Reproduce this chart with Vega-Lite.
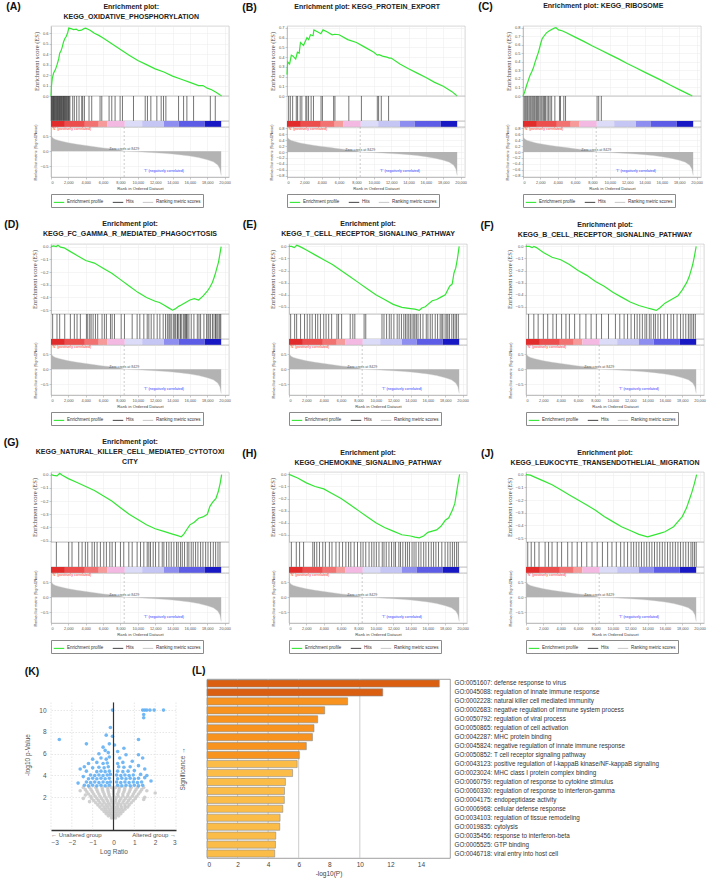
{
"$schema": "https://vega.github.io/schema/vega-lite/v6.json",
"padding": {"left": 3, "top": 2, "right": 1, "bottom": 2},
"spacing": 11,
"config": {
 "font": "Liberation Sans",
 "view": {"stroke": "#bbbbbb", "strokeWidth": 0.6},
 "axis": {"labelFontSize": 4, "titleFontSize": 4.2, "labelColor": "#555555", "titleColor": "#444444", "titleFontWeight": "normal", "tickColor": "#999999", "domainColor": "#999999", "gridColor": "#eaeaea", "gridWidth": 0.5, "tickSize": 2, "tickWidth": 0.5, "domainWidth": 0.5, "labelPadding": 1, "titlePadding": 3, "labelOverlap": false},
 "legend": {"orient": "bottom", "direction": "horizontal", "labelFontSize": 4.5, "labelColor": "#333333", "symbolType": "stroke", "symbolSize": 110, "symbolStrokeWidth": 1.1, "strokeColor": "#8a8a8a", "padding": 2, "columnPadding": 6, "offset": 3, "labelOffset": 2}
},
"datasets": {
 "es": [
  {"p":"A","r":0,"e":0},{"p":"A","r":60,"e":0.1},{"p":"A","r":150,"e":0.17},{"p":"A","r":300,"e":0.22},{"p":"A","r":500,"e":0.25},{"p":"A","r":700,"e":0.3},{"p":"A","r":900,"e":0.36},{"p":"A","r":1000,"e":0.41},{"p":"A","r":1150,"e":0.43},{"p":"A","r":1300,"e":0.47},{"p":"A","r":1450,"e":0.52},{"p":"A","r":1600,"e":0.55},{"p":"A","r":1750,"e":0.57},{"p":"A","r":1900,"e":0.6},{"p":"A","r":2050,"e":0.65},{"p":"A","r":2300,"e":0.645},{"p":"A","r":2600,"e":0.635},{"p":"A","r":2900,"e":0.64},{"p":"A","r":3200,"e":0.625},{"p":"A","r":3500,"e":0.63},{"p":"A","r":3800,"e":0.645},{"p":"A","r":4000,"e":0.65},{"p":"A","r":4500,"e":0.63},{"p":"A","r":5000,"e":0.6},{"p":"A","r":5500,"e":0.58},{"p":"A","r":6000,"e":0.555},{"p":"A","r":7000,"e":0.5},{"p":"A","r":8000,"e":0.445},{"p":"A","r":9000,"e":0.39},{"p":"A","r":10000,"e":0.34},{"p":"A","r":11000,"e":0.3},{"p":"A","r":12000,"e":0.26},{"p":"A","r":13000,"e":0.23},{"p":"A","r":14000,"e":0.19},{"p":"A","r":15000,"e":0.16},{"p":"A","r":16000,"e":0.13},{"p":"A","r":17000,"e":0.1},{"p":"A","r":17500,"e":0.1},{"p":"A","r":18000,"e":0.075},{"p":"A","r":18500,"e":0.06},{"p":"A","r":19000,"e":0.035},{"p":"A","r":19650,"e":0},
  {"p":"B","r":0,"e":0.22},{"p":"B","r":80,"e":0.35},{"p":"B","r":300,"e":0.33},{"p":"B","r":500,"e":0.42},{"p":"B","r":700,"e":0.41},{"p":"B","r":1000,"e":0.38},{"p":"B","r":1200,"e":0.45},{"p":"B","r":1400,"e":0.44},{"p":"B","r":1550,"e":0.55},{"p":"B","r":1900,"e":0.52},{"p":"B","r":2100,"e":0.56},{"p":"B","r":2300,"e":0.6},{"p":"B","r":2500,"e":0.58},{"p":"B","r":2700,"e":0.63},{"p":"B","r":3000,"e":0.62},{"p":"B","r":3100,"e":0.68},{"p":"B","r":3500,"e":0.66},{"p":"B","r":3900,"e":0.64},{"p":"B","r":4150,"e":0.68},{"p":"B","r":4600,"e":0.66},{"p":"B","r":5200,"e":0.63},{"p":"B","r":5500,"e":0.635},{"p":"B","r":6000,"e":0.63},{"p":"B","r":7000,"e":0.58},{"p":"B","r":8000,"e":0.55},{"p":"B","r":9000,"e":0.5},{"p":"B","r":10000,"e":0.45},{"p":"B","r":10400,"e":0.42},{"p":"B","r":10600,"e":0.425},{"p":"B","r":11000,"e":0.41},{"p":"B","r":11500,"e":0.4},{"p":"B","r":11800,"e":0.39},{"p":"B","r":12000,"e":0.39},{"p":"B","r":13000,"e":0.33},{"p":"B","r":14000,"e":0.28},{"p":"B","r":15000,"e":0.235},{"p":"B","r":16000,"e":0.19},{"p":"B","r":17000,"e":0.14},{"p":"B","r":18000,"e":0.1},{"p":"B","r":19000,"e":0.045},{"p":"B","r":19600,"e":0},
  {"p":"C","r":0,"e":0},{"p":"C","r":200,"e":0.05},{"p":"C","r":400,"e":0.12},{"p":"C","r":600,"e":0.18},{"p":"C","r":800,"e":0.24},{"p":"C","r":1000,"e":0.28},{"p":"C","r":1200,"e":0.33},{"p":"C","r":1400,"e":0.4},{"p":"C","r":1600,"e":0.46},{"p":"C","r":1800,"e":0.52},{"p":"C","r":2000,"e":0.6},{"p":"C","r":2200,"e":0.67},{"p":"C","r":2400,"e":0.7},{"p":"C","r":2700,"e":0.74},{"p":"C","r":3000,"e":0.76},{"p":"C","r":3300,"e":0.78},{"p":"C","r":3600,"e":0.795},{"p":"C","r":3800,"e":0.8},{"p":"C","r":4100,"e":0.775},{"p":"C","r":4500,"e":0.765},{"p":"C","r":5000,"e":0.74},{"p":"C","r":6000,"e":0.69},{"p":"C","r":7000,"e":0.64},{"p":"C","r":8000,"e":0.585},{"p":"C","r":9000,"e":0.535},{"p":"C","r":10000,"e":0.485},{"p":"C","r":11000,"e":0.435},{"p":"C","r":12000,"e":0.38},{"p":"C","r":13000,"e":0.33},{"p":"C","r":14000,"e":0.28},{"p":"C","r":15000,"e":0.23},{"p":"C","r":16000,"e":0.18},{"p":"C","r":17000,"e":0.125},{"p":"C","r":18000,"e":0.075},{"p":"C","r":19000,"e":0.025},{"p":"C","r":19500,"e":0},
  {"p":"D","r":0,"e":0},{"p":"D","r":300,"e":0.005},{"p":"D","r":600,"e":0},{"p":"D","r":800,"e":0.01},{"p":"D","r":1100,"e":-0.005},{"p":"D","r":1500,"e":-0.01},{"p":"D","r":2000,"e":-0.03},{"p":"D","r":3000,"e":-0.07},{"p":"D","r":4000,"e":-0.11},{"p":"D","r":5000,"e":-0.13},{"p":"D","r":6000,"e":-0.17},{"p":"D","r":7000,"e":-0.21},{"p":"D","r":8000,"e":-0.26},{"p":"D","r":9000,"e":-0.31},{"p":"D","r":10000,"e":-0.36},{"p":"D","r":11000,"e":-0.4},{"p":"D","r":12000,"e":-0.43},{"p":"D","r":12500,"e":-0.44},{"p":"D","r":13000,"e":-0.46},{"p":"D","r":13500,"e":-0.48},{"p":"D","r":14000,"e":-0.5},{"p":"D","r":14300,"e":-0.49},{"p":"D","r":14700,"e":-0.47},{"p":"D","r":15000,"e":-0.46},{"p":"D","r":15500,"e":-0.44},{"p":"D","r":16000,"e":-0.42},{"p":"D","r":16500,"e":-0.41},{"p":"D","r":17000,"e":-0.42},{"p":"D","r":17500,"e":-0.39},{"p":"D","r":18000,"e":-0.35},{"p":"D","r":18300,"e":-0.32},{"p":"D","r":18600,"e":-0.28},{"p":"D","r":18900,"e":-0.22},{"p":"D","r":19100,"e":-0.17},{"p":"D","r":19300,"e":-0.12},{"p":"D","r":19450,"e":-0.06},{"p":"D","r":19600,"e":0},
  {"p":"E","r":0,"e":0},{"p":"E","r":300,"e":0},{"p":"E","r":600,"e":-0.01},{"p":"E","r":900,"e":0.01},{"p":"E","r":1200,"e":0},{"p":"E","r":1500,"e":-0.01},{"p":"E","r":2000,"e":-0.03},{"p":"E","r":3000,"e":-0.07},{"p":"E","r":4000,"e":-0.11},{"p":"E","r":5000,"e":-0.15},{"p":"E","r":6000,"e":-0.2},{"p":"E","r":7000,"e":-0.25},{"p":"E","r":8000,"e":-0.3},{"p":"E","r":9000,"e":-0.35},{"p":"E","r":10000,"e":-0.4},{"p":"E","r":11000,"e":-0.44},{"p":"E","r":12000,"e":-0.48},{"p":"E","r":13000,"e":-0.505},{"p":"E","r":14000,"e":-0.515},{"p":"E","r":14500,"e":-0.52},{"p":"E","r":15000,"e":-0.53},{"p":"E","r":15300,"e":-0.51},{"p":"E","r":15700,"e":-0.5},{"p":"E","r":16000,"e":-0.48},{"p":"E","r":16500,"e":-0.45},{"p":"E","r":17000,"e":-0.44},{"p":"E","r":17500,"e":-0.42},{"p":"E","r":18000,"e":-0.4},{"p":"E","r":18500,"e":-0.33},{"p":"E","r":18800,"e":-0.31},{"p":"E","r":19000,"e":-0.22},{"p":"E","r":19200,"e":-0.18},{"p":"E","r":19400,"e":-0.1},{"p":"E","r":19600,"e":0},
  {"p":"F","r":0,"e":0},{"p":"F","r":400,"e":0},{"p":"F","r":700,"e":-0.01},{"p":"F","r":900,"e":0},{"p":"F","r":1200,"e":-0.01},{"p":"F","r":2000,"e":-0.05},{"p":"F","r":3000,"e":-0.09},{"p":"F","r":4000,"e":-0.11},{"p":"F","r":5000,"e":-0.15},{"p":"F","r":6000,"e":-0.2},{"p":"F","r":7000,"e":-0.24},{"p":"F","r":8000,"e":-0.29},{"p":"F","r":9000,"e":-0.33},{"p":"F","r":10000,"e":-0.38},{"p":"F","r":11000,"e":-0.42},{"p":"F","r":12000,"e":-0.46},{"p":"F","r":13000,"e":-0.49},{"p":"F","r":14000,"e":-0.51},{"p":"F","r":14500,"e":-0.52},{"p":"F","r":15000,"e":-0.53},{"p":"F","r":15400,"e":-0.51},{"p":"F","r":16000,"e":-0.47},{"p":"F","r":16500,"e":-0.45},{"p":"F","r":17000,"e":-0.43},{"p":"F","r":17500,"e":-0.41},{"p":"F","r":18000,"e":-0.36},{"p":"F","r":18500,"e":-0.3},{"p":"F","r":18800,"e":-0.25},{"p":"F","r":19000,"e":-0.2},{"p":"F","r":19200,"e":-0.15},{"p":"F","r":19400,"e":-0.08},{"p":"F","r":19600,"e":0},
  {"p":"G","r":0,"e":0},{"p":"G","r":300,"e":-0.005},{"p":"G","r":700,"e":-0.01},{"p":"G","r":1000,"e":0.01},{"p":"G","r":1300,"e":-0.005},{"p":"G","r":2000,"e":-0.03},{"p":"G","r":3000,"e":-0.06},{"p":"G","r":4000,"e":-0.09},{"p":"G","r":5000,"e":-0.12},{"p":"G","r":6000,"e":-0.16},{"p":"G","r":7000,"e":-0.2},{"p":"G","r":8000,"e":-0.25},{"p":"G","r":9000,"e":-0.3},{"p":"G","r":10000,"e":-0.34},{"p":"G","r":11000,"e":-0.38},{"p":"G","r":12000,"e":-0.41},{"p":"G","r":13000,"e":-0.43},{"p":"G","r":14000,"e":-0.45},{"p":"G","r":14500,"e":-0.46},{"p":"G","r":15000,"e":-0.47},{"p":"G","r":15300,"e":-0.45},{"p":"G","r":15700,"e":-0.41},{"p":"G","r":16000,"e":-0.38},{"p":"G","r":16500,"e":-0.36},{"p":"G","r":17000,"e":-0.33},{"p":"G","r":17500,"e":-0.32},{"p":"G","r":18000,"e":-0.3},{"p":"G","r":18300,"e":-0.24},{"p":"G","r":18600,"e":-0.21},{"p":"G","r":19000,"e":-0.18},{"p":"G","r":19300,"e":-0.12},{"p":"G","r":19500,"e":-0.06},{"p":"G","r":19650,"e":0},
  {"p":"H","r":0,"e":0},{"p":"H","r":1000,"e":-0.03},{"p":"H","r":2000,"e":-0.07},{"p":"H","r":3000,"e":-0.1},{"p":"H","r":4000,"e":-0.12},{"p":"H","r":5000,"e":-0.16},{"p":"H","r":6000,"e":-0.2},{"p":"H","r":7000,"e":-0.25},{"p":"H","r":8000,"e":-0.3},{"p":"H","r":9000,"e":-0.35},{"p":"H","r":10000,"e":-0.4},{"p":"H","r":11000,"e":-0.44},{"p":"H","r":12000,"e":-0.47},{"p":"H","r":13000,"e":-0.5},{"p":"H","r":14000,"e":-0.51},{"p":"H","r":14500,"e":-0.52},{"p":"H","r":15000,"e":-0.525},{"p":"H","r":15500,"e":-0.51},{"p":"H","r":16000,"e":-0.48},{"p":"H","r":16500,"e":-0.47},{"p":"H","r":17000,"e":-0.46},{"p":"H","r":17500,"e":-0.43},{"p":"H","r":18000,"e":-0.38},{"p":"H","r":18400,"e":-0.36},{"p":"H","r":18800,"e":-0.3},{"p":"H","r":19100,"e":-0.24},{"p":"H","r":19300,"e":-0.15},{"p":"H","r":19500,"e":-0.06},{"p":"H","r":19650,"e":0},
  {"p":"J","r":0,"e":0},{"p":"J","r":500,"e":-0.005},{"p":"J","r":1000,"e":-0.02},{"p":"J","r":2000,"e":-0.05},{"p":"J","r":3000,"e":-0.08},{"p":"J","r":4000,"e":-0.12},{"p":"J","r":5000,"e":-0.16},{"p":"J","r":6000,"e":-0.2},{"p":"J","r":7000,"e":-0.24},{"p":"J","r":8000,"e":-0.28},{"p":"J","r":9000,"e":-0.33},{"p":"J","r":10000,"e":-0.37},{"p":"J","r":11000,"e":-0.41},{"p":"J","r":12000,"e":-0.44},{"p":"J","r":13000,"e":-0.47},{"p":"J","r":13500,"e":-0.48},{"p":"J","r":14000,"e":-0.49},{"p":"J","r":14500,"e":-0.48},{"p":"J","r":15000,"e":-0.47},{"p":"J","r":15500,"e":-0.46},{"p":"J","r":16000,"e":-0.45},{"p":"J","r":16500,"e":-0.43},{"p":"J","r":17000,"e":-0.41},{"p":"J","r":17500,"e":-0.37},{"p":"J","r":18000,"e":-0.33},{"p":"J","r":18500,"e":-0.26},{"p":"J","r":18800,"e":-0.2},{"p":"J","r":19100,"e":-0.14},{"p":"J","r":19400,"e":-0.07},{"p":"J","r":19650,"e":0}
 ],
 "hits": [
  {"p":"A","r":30},{"p":"A","r":90},{"p":"A","r":160},{"p":"A","r":230},{"p":"A","r":290},{"p":"A","r":360},{"p":"A","r":430},{"p":"A","r":480},{"p":"A","r":560},{"p":"A","r":620},{"p":"A","r":700},{"p":"A","r":760},{"p":"A","r":830},{"p":"A","r":900},{"p":"A","r":960},{"p":"A","r":1020},{"p":"A","r":1100},{"p":"A","r":1170},{"p":"A","r":1230},{"p":"A","r":1300},{"p":"A","r":1380},{"p":"A","r":1440},{"p":"A","r":1520},{"p":"A","r":1580},{"p":"A","r":1650},{"p":"A","r":1720},{"p":"A","r":1800},{"p":"A","r":1870},{"p":"A","r":1950},{"p":"A","r":2020},{"p":"A","r":2100},{"p":"A","r":2180},{"p":"A","r":2500},{"p":"A","r":2690},{"p":"A","r":2960},{"p":"A","r":3230},{"p":"A","r":3540},{"p":"A","r":3650},{"p":"A","r":3850},{"p":"A","r":4380},{"p":"A","r":4690},{"p":"A","r":5650},{"p":"A","r":5850},{"p":"A","r":6690},{"p":"A","r":7000},{"p":"A","r":7380},{"p":"A","r":7960},{"p":"A","r":8230},{"p":"A","r":9500},{"p":"A","r":10850},{"p":"A","r":11110},{"p":"A","r":11500},{"p":"A","r":12190},{"p":"A","r":12690},{"p":"A","r":12960},{"p":"A","r":13230},{"p":"A","r":14690},{"p":"A","r":15270},{"p":"A","r":15650},{"p":"A","r":16420},{"p":"A","r":18350},{"p":"A","r":18920},
  {"p":"B","r":190},{"p":"B","r":380},{"p":"B","r":650},{"p":"B","r":1070},{"p":"B","r":1220},{"p":"B","r":1520},{"p":"B","r":1710},{"p":"B","r":2170},{"p":"B","r":2290},{"p":"B","r":2480},{"p":"B","r":2780},{"p":"B","r":3050},{"p":"B","r":3920},{"p":"B","r":4080},{"p":"B","r":5370},{"p":"B","r":5520},{"p":"B","r":7120},{"p":"B","r":8570},{"p":"B","r":10400},{"p":"B","r":10550},{"p":"B","r":10860},{"p":"B","r":11700},
  {"p":"C","r":110},{"p":"C","r":230},{"p":"C","r":340},{"p":"C","r":460},{"p":"C","r":560},{"p":"C","r":700},{"p":"C","r":820},{"p":"C","r":930},{"p":"C","r":1060},{"p":"C","r":1180},{"p":"C","r":1300},{"p":"C","r":1410},{"p":"C","r":1560},{"p":"C","r":1680},{"p":"C","r":1800},{"p":"C","r":1950},{"p":"C","r":2080},{"p":"C","r":2200},{"p":"C","r":2350},{"p":"C","r":2480},{"p":"C","r":2600},{"p":"C","r":2780},{"p":"C","r":2950},{"p":"C","r":3120},{"p":"C","r":3300},{"p":"C","r":3670},{"p":"C","r":4200},{"p":"C","r":4320},{"p":"C","r":4700},{"p":"C","r":4900},{"p":"C","r":8530},{"p":"C","r":8720},{"p":"C","r":9020},
  {"p":"D","r":190},{"p":"D","r":690},{"p":"D","r":1000},{"p":"D","r":1580},{"p":"D","r":2230},{"p":"D","r":2690},{"p":"D","r":3000},{"p":"D","r":3380},{"p":"D","r":4080},{"p":"D","r":4230},{"p":"D","r":4460},{"p":"D","r":4620},{"p":"D","r":4850},{"p":"D","r":5120},{"p":"D","r":5380},{"p":"D","r":5880},{"p":"D","r":6150},{"p":"D","r":6380},{"p":"D","r":6850},{"p":"D","r":7040},{"p":"D","r":7310},{"p":"D","r":8080},{"p":"D","r":8460},{"p":"D","r":9350},{"p":"D","r":9920},{"p":"D","r":10230},{"p":"D","r":10690},{"p":"D","r":11080},{"p":"D","r":11270},{"p":"D","r":11540},{"p":"D","r":11850},{"p":"D","r":12230},{"p":"D","r":12540},{"p":"D","r":12920},{"p":"D","r":13190},{"p":"D","r":13400},{"p":"D","r":13580},{"p":"D","r":13700},{"p":"D","r":13850},{"p":"D","r":14080},{"p":"D","r":14200},{"p":"D","r":14350},{"p":"D","r":14540},{"p":"D","r":14600},{"p":"D","r":14730},{"p":"D","r":14920},{"p":"D","r":15000},{"p":"D","r":15230},{"p":"D","r":15350},{"p":"D","r":15500},{"p":"D","r":15600},{"p":"D","r":15690},{"p":"D","r":15880},{"p":"D","r":16150},{"p":"D","r":16460},{"p":"D","r":16850},{"p":"D","r":17040},{"p":"D","r":17230},{"p":"D","r":17610},{"p":"D","r":17920},{"p":"D","r":18080},{"p":"D","r":18200},{"p":"D","r":18380},{"p":"D","r":18600},{"p":"D","r":18770},{"p":"D","r":18960},{"p":"D","r":19000},{"p":"D","r":19150},{"p":"D","r":19340},{"p":"D","r":19450},{"p":"D","r":19550},
  {"p":"E","r":190},{"p":"E","r":650},{"p":"E","r":880},{"p":"E","r":1330},{"p":"E","r":1790},{"p":"E","r":2100},{"p":"E","r":2400},{"p":"E","r":2670},{"p":"E","r":3050},{"p":"E","r":3310},{"p":"E","r":3620},{"p":"E","r":4000},{"p":"E","r":4270},{"p":"E","r":4570},{"p":"E","r":4910},{"p":"E","r":5520},{"p":"E","r":5710},{"p":"E","r":6060},{"p":"E","r":7050},{"p":"E","r":7350},{"p":"E","r":7580},{"p":"E","r":8650},{"p":"E","r":8840},{"p":"E","r":10710},{"p":"E","r":10940},{"p":"E","r":11240},{"p":"E","r":11550},{"p":"E","r":11770},{"p":"E","r":12080},{"p":"E","r":12460},{"p":"E","r":12690},{"p":"E","r":12950},{"p":"E","r":13220},{"p":"E","r":13410},{"p":"E","r":13600},{"p":"E","r":13790},{"p":"E","r":13980},{"p":"E","r":14170},{"p":"E","r":14370},{"p":"E","r":14500},{"p":"E","r":14670},{"p":"E","r":14860},{"p":"E","r":15130},{"p":"E","r":15430},{"p":"E","r":15810},{"p":"E","r":16000},{"p":"E","r":16270},{"p":"E","r":16500},{"p":"E","r":16840},{"p":"E","r":17110},{"p":"E","r":17410},{"p":"E","r":17600},{"p":"E","r":17720},{"p":"E","r":17980},{"p":"E","r":18170},{"p":"E","r":18300},{"p":"E","r":18480},{"p":"E","r":18750},{"p":"E","r":18940},{"p":"E","r":19130},{"p":"E","r":19300},{"p":"E","r":19500},
  {"p":"F","r":300},{"p":"F","r":900},{"p":"F","r":1400},{"p":"F","r":2000},{"p":"F","r":2500},{"p":"F","r":3100},{"p":"F","r":3500},{"p":"F","r":4100},{"p":"F","r":4600},{"p":"F","r":5000},{"p":"F","r":5600},{"p":"F","r":6200},{"p":"F","r":6900},{"p":"F","r":7500},{"p":"F","r":8100},{"p":"F","r":8700},{"p":"F","r":9500},{"p":"F","r":10300},{"p":"F","r":10800},{"p":"F","r":11300},{"p":"F","r":11700},{"p":"F","r":12100},{"p":"F","r":12500},{"p":"F","r":12800},{"p":"F","r":13100},{"p":"F","r":13400},{"p":"F","r":13700},{"p":"F","r":13900},{"p":"F","r":14200},{"p":"F","r":14400},{"p":"F","r":14700},{"p":"F","r":14900},{"p":"F","r":15200},{"p":"F","r":15500},{"p":"F","r":15900},{"p":"F","r":16300},{"p":"F","r":16700},{"p":"F","r":17000},{"p":"F","r":17400},{"p":"F","r":17800},{"p":"F","r":18100},{"p":"F","r":18400},{"p":"F","r":18700},{"p":"F","r":18900},{"p":"F","r":19100},{"p":"F","r":19300},{"p":"F","r":19500},
  {"p":"G","r":620},{"p":"G","r":2040},{"p":"G","r":2420},{"p":"G","r":3190},{"p":"G","r":3580},{"p":"G","r":3960},{"p":"G","r":4230},{"p":"G","r":4730},{"p":"G","r":5000},{"p":"G","r":5310},{"p":"G","r":5690},{"p":"G","r":6080},{"p":"G","r":6380},{"p":"G","r":6770},{"p":"G","r":7040},{"p":"G","r":7420},{"p":"G","r":8000},{"p":"G","r":8380},{"p":"G","r":8960},{"p":"G","r":9350},{"p":"G","r":9920},{"p":"G","r":10310},{"p":"G","r":10690},{"p":"G","r":11080},{"p":"G","r":11270},{"p":"G","r":11460},{"p":"G","r":11770},{"p":"G","r":12040},{"p":"G","r":12420},{"p":"G","r":12810},{"p":"G","r":13000},{"p":"G","r":13310},{"p":"G","r":13580},{"p":"G","r":13850},{"p":"G","r":14150},{"p":"G","r":14460},{"p":"G","r":14650},{"p":"G","r":14920},{"p":"G","r":15120},{"p":"G","r":15380},{"p":"G","r":15690},{"p":"G","r":15880},{"p":"G","r":16150},{"p":"G","r":16380},{"p":"G","r":16650},{"p":"G","r":16920},{"p":"G","r":17230},{"p":"G","r":17500},{"p":"G","r":17810},{"p":"G","r":18080},{"p":"G","r":18380},{"p":"G","r":18690},{"p":"G","r":18960},{"p":"G","r":19230},{"p":"G","r":19460},
  {"p":"H","r":270},{"p":"H","r":840},{"p":"H","r":1220},{"p":"H","r":1680},{"p":"H","r":2740},{"p":"H","r":2930},{"p":"H","r":3200},{"p":"H","r":3510},{"p":"H","r":3890},{"p":"H","r":4190},{"p":"H","r":4650},{"p":"H","r":4950},{"p":"H","r":5410},{"p":"H","r":5790},{"p":"H","r":6170},{"p":"H","r":6550},{"p":"H","r":6860},{"p":"H","r":7120},{"p":"H","r":7510},{"p":"H","r":7890},{"p":"H","r":8270},{"p":"H","r":8530},{"p":"H","r":8840},{"p":"H","r":9220},{"p":"H","r":9530},{"p":"H","r":9790},{"p":"H","r":10060},{"p":"H","r":10360},{"p":"H","r":10740},{"p":"H","r":10940},{"p":"H","r":11200},{"p":"H","r":11510},{"p":"H","r":11810},{"p":"H","r":12080},{"p":"H","r":12270},{"p":"H","r":12650},{"p":"H","r":12840},{"p":"H","r":13110},{"p":"H","r":13410},{"p":"H","r":13640},{"p":"H","r":13870},{"p":"H","r":14170},{"p":"H","r":14400},{"p":"H","r":14630},{"p":"H","r":14940},{"p":"H","r":15200},{"p":"H","r":15510},{"p":"H","r":15770},{"p":"H","r":16080},{"p":"H","r":16380},{"p":"H","r":16650},{"p":"H","r":16920},{"p":"H","r":17220},{"p":"H","r":17600},{"p":"H","r":17980},{"p":"H","r":18290},{"p":"H","r":18560},{"p":"H","r":18820},{"p":"H","r":19050},{"p":"H","r":19300},{"p":"H","r":19500},
  {"p":"J","r":200},{"p":"J","r":600},{"p":"J","r":1000},{"p":"J","r":1500},{"p":"J","r":2200},{"p":"J","r":2600},{"p":"J","r":3000},{"p":"J","r":3600},{"p":"J","r":4100},{"p":"J","r":4800},{"p":"J","r":5300},{"p":"J","r":5900},{"p":"J","r":6400},{"p":"J","r":7000},{"p":"J","r":7600},{"p":"J","r":8200},{"p":"J","r":8800},{"p":"J","r":9400},{"p":"J","r":9900},{"p":"J","r":10400},{"p":"J","r":10900},{"p":"J","r":11300},{"p":"J","r":11700},{"p":"J","r":12100},{"p":"J","r":12400},{"p":"J","r":12700},{"p":"J","r":13000},{"p":"J","r":13300},{"p":"J","r":13600},{"p":"J","r":13900},{"p":"J","r":14200},{"p":"J","r":14500},{"p":"J","r":14800},{"p":"J","r":15100},{"p":"J","r":15400},{"p":"J","r":15700},{"p":"J","r":16000},{"p":"J","r":16300},{"p":"J","r":16600},{"p":"J","r":16900},{"p":"J","r":17200},{"p":"J","r":17500},{"p":"J","r":17800},{"p":"J","r":18100},{"p":"J","r":18400},{"p":"J","r":18700},{"p":"J","r":19000},{"p":"J","r":19200},{"p":"J","r":19400},{"p":"J","r":19600}
 ],
 "metric": [
  {"r":0,"m":0.62},{"r":60,"m":0.5},{"r":200,"m":0.44},{"r":500,"m":0.39},{"r":1000,"m":0.35},{"r":1500,"m":0.31},{"r":2000,"m":0.28},{"r":3000,"m":0.23},{"r":4000,"m":0.19},{"r":5000,"m":0.15},{"r":6000,"m":0.11},{"r":7000,"m":0.08},{"r":8000,"m":0.04},{"r":8429,"m":0},{"r":9000,"m":-0.01},{"r":10000,"m":-0.02},{"r":11000,"m":-0.035},{"r":12000,"m":-0.05},{"r":13000,"m":-0.07},{"r":14000,"m":-0.09},{"r":15000,"m":-0.12},{"r":16000,"m":-0.16},{"r":17000,"m":-0.21},{"r":18000,"m":-0.28},{"r":18700,"m":-0.35},{"r":19200,"m":-0.45},{"r":19450,"m":-0.58},{"r":19600,"m":-0.8}
 ],
 "bar": [
  {"a":0,"b":1600,"s":"1"},{"a":1600,"b":3900,"s":"2"},{"a":3900,"b":5500,"s":"3"},{"a":5500,"b":6500,"s":"4"},{"a":6500,"b":8500,"s":"5"},{"a":8500,"b":10500,"s":"6"},{"a":10500,"b":13000,"s":"7"},{"a":13000,"b":14700,"s":"8"},{"a":14700,"b":17700,"s":"9"},{"a":17700,"b":19600,"s":"10"}
 ],
 "vol": [
  {"x":-0.1,"y":0.1,"g":"n"},{"x":0,"y":0.1,"g":"n"},{"x":0.1,"y":0.1,"g":"n"},
  {"x":-0.25,"y":0.3,"g":"n"},{"x":-0.12,"y":0.3,"g":"n"},{"x":0,"y":0.3,"g":"n"},{"x":0.12,"y":0.3,"g":"n"},{"x":0.25,"y":0.3,"g":"n"},
  {"x":-0.35,"y":0.5,"g":"n"},{"x":-0.2,"y":0.5,"g":"n"},{"x":-0.07,"y":0.5,"g":"n"},{"x":0.07,"y":0.5,"g":"n"},{"x":0.2,"y":0.5,"g":"n"},{"x":0.35,"y":0.5,"g":"n"},
  {"x":-0.45,"y":0.7,"g":"n"},{"x":-0.3,"y":0.7,"g":"n"},{"x":-0.15,"y":0.7,"g":"n"},{"x":0,"y":0.7,"g":"n"},{"x":0.15,"y":0.7,"g":"n"},{"x":0.3,"y":0.7,"g":"n"},{"x":0.45,"y":0.7,"g":"n"},
  {"x":-0.55,"y":0.9,"g":"n"},{"x":-0.38,"y":0.9,"g":"n"},{"x":-0.2,"y":0.9,"g":"n"},{"x":-0.05,"y":0.9,"g":"n"},{"x":0.1,"y":0.9,"g":"n"},{"x":0.25,"y":0.9,"g":"n"},{"x":0.4,"y":0.9,"g":"n"},{"x":0.55,"y":0.9,"g":"n"},
  {"x":-0.65,"y":1.1,"g":"n"},{"x":-0.45,"y":1.1,"g":"n"},{"x":-0.28,"y":1.1,"g":"n"},{"x":-0.1,"y":1.1,"g":"n"},{"x":0.05,"y":1.1,"g":"n"},{"x":0.2,"y":1.1,"g":"n"},{"x":0.38,"y":1.1,"g":"n"},{"x":0.55,"y":1.1,"g":"n"},{"x":0.68,"y":1.1,"g":"n"},
  {"x":-0.75,"y":1.3,"g":"n"},{"x":-0.55,"y":1.3,"g":"n"},{"x":-0.35,"y":1.3,"g":"n"},{"x":-0.18,"y":1.3,"g":"n"},{"x":0,"y":1.3,"g":"n"},{"x":0.18,"y":1.3,"g":"n"},{"x":0.35,"y":1.3,"g":"n"},{"x":0.55,"y":1.3,"g":"n"},{"x":0.75,"y":1.3,"g":"n"},
  {"x":-0.85,"y":1.5,"g":"n"},{"x":-0.65,"y":1.5,"g":"n"},{"x":-0.45,"y":1.5,"g":"n"},{"x":-0.25,"y":1.5,"g":"n"},{"x":-0.08,"y":1.5,"g":"n"},{"x":0.08,"y":1.5,"g":"n"},{"x":0.25,"y":1.5,"g":"n"},{"x":0.45,"y":1.5,"g":"n"},{"x":0.65,"y":1.5,"g":"n"},{"x":0.85,"y":1.5,"g":"n"},
  {"x":-0.95,"y":1.7,"g":"n"},{"x":-0.72,"y":1.7,"g":"n"},{"x":-0.5,"y":1.7,"g":"n"},{"x":-0.3,"y":1.7,"g":"n"},{"x":-0.1,"y":1.7,"g":"n"},{"x":0.1,"y":1.7,"g":"n"},{"x":0.3,"y":1.7,"g":"n"},{"x":0.5,"y":1.7,"g":"n"},{"x":0.72,"y":1.7,"g":"n"},{"x":0.95,"y":1.7,"g":"n"},
  {"x":-1.05,"y":1.9,"g":"n"},{"x":-0.8,"y":1.9,"g":"n"},{"x":-0.58,"y":1.9,"g":"n"},{"x":-0.35,"y":1.9,"g":"n"},{"x":-0.12,"y":1.9,"g":"n"},{"x":0.12,"y":1.9,"g":"n"},{"x":0.35,"y":1.9,"g":"n"},{"x":0.58,"y":1.9,"g":"n"},{"x":0.8,"y":1.9,"g":"n"},{"x":1.05,"y":1.9,"g":"n"},
  {"x":-1.1,"y":2.1,"g":"n"},{"x":-0.88,"y":2.1,"g":"n"},{"x":-0.65,"y":2.1,"g":"n"},{"x":-0.42,"y":2.1,"g":"n"},{"x":-0.2,"y":2.1,"g":"n"},{"x":0.02,"y":2.1,"g":"n"},{"x":0.22,"y":2.1,"g":"n"},{"x":0.45,"y":2.1,"g":"n"},{"x":0.68,"y":2.1,"g":"n"},{"x":0.9,"y":2.1,"g":"n"},{"x":1.12,"y":2.1,"g":"n"},
  {"x":-1.2,"y":2.3,"g":"n"},{"x":-0.95,"y":2.3,"g":"n"},{"x":-0.7,"y":2.3,"g":"n"},{"x":-0.45,"y":2.3,"g":"n"},{"x":-0.22,"y":2.3,"g":"n"},{"x":0,"y":2.3,"g":"n"},{"x":0.2,"y":2.3,"g":"n"},{"x":0.45,"y":2.3,"g":"n"},{"x":0.7,"y":2.3,"g":"n"},{"x":0.95,"y":2.3,"g":"n"},{"x":1.2,"y":2.3,"g":"n"},
  {"x":-1.28,"y":2.5,"g":"n"},{"x":-1.02,"y":2.5,"g":"n"},{"x":-0.76,"y":2.5,"g":"n"},{"x":-0.5,"y":2.5,"g":"n"},{"x":-0.25,"y":2.5,"g":"n"},{"x":0,"y":2.5,"g":"n"},{"x":0.25,"y":2.5,"g":"n"},{"x":0.5,"y":2.5,"g":"n"},{"x":0.76,"y":2.5,"g":"n"},{"x":1.02,"y":2.5,"g":"n"},{"x":1.28,"y":2.5,"g":"n"},
  {"x":-1.35,"y":2.7,"g":"n"},{"x":-1.08,"y":2.7,"g":"n"},{"x":-0.8,"y":2.7,"g":"n"},{"x":-0.53,"y":2.7,"g":"n"},{"x":-0.27,"y":2.7,"g":"n"},{"x":0,"y":2.7,"g":"n"},{"x":0.27,"y":2.7,"g":"n"},{"x":0.53,"y":2.7,"g":"n"},{"x":0.8,"y":2.7,"g":"n"},{"x":1.08,"y":2.7,"g":"n"},{"x":1.35,"y":2.7,"g":"n"},
  {"x":-1.45,"y":2.9,"g":"n"},{"x":-1.15,"y":2.9,"g":"n"},{"x":-0.85,"y":2.9,"g":"n"},{"x":-0.55,"y":2.9,"g":"n"},{"x":-0.28,"y":2.9,"g":"n"},{"x":-0.1,"y":2.9,"g":"n"},{"x":0.1,"y":2.9,"g":"n"},{"x":0.28,"y":2.9,"g":"n"},{"x":0.55,"y":2.9,"g":"n"},{"x":0.85,"y":2.9,"g":"n"},{"x":1.15,"y":2.9,"g":"n"},{"x":1.45,"y":2.9,"g":"n"},
  {"x":-1.45,"y":1.9,"g":"n"},{"x":-1.35,"y":2.2,"g":"n"},{"x":-1.6,"y":2.6,"g":"n"},{"x":1.5,"y":2.0,"g":"n"},{"x":1.6,"y":2.6,"g":"n"},{"x":2.0,"y":2.4,"g":"n"},{"x":1.45,"y":1.8,"g":"n"},{"x":-1.15,"y":1.6,"g":"n"},
  {"x":-1.4,"y":3.1,"g":"s"},{"x":-1.2,"y":3.05,"g":"s"},{"x":-1.0,"y":3.1,"g":"s"},{"x":-0.8,"y":3.05,"g":"s"},{"x":-0.6,"y":3.1,"g":"s"},{"x":-0.4,"y":3.05,"g":"s"},{"x":-0.2,"y":3.1,"g":"s"},
  {"x":-1.3,"y":3.4,"g":"s"},{"x":-1.1,"y":3.35,"g":"s"},{"x":-0.9,"y":3.4,"g":"s"},{"x":-0.7,"y":3.35,"g":"s"},{"x":-0.5,"y":3.4,"g":"s"},{"x":-0.3,"y":3.35,"g":"s"},{"x":-0.15,"y":3.4,"g":"s"},
  {"x":-1.2,"y":3.7,"g":"s"},{"x":-1.0,"y":3.75,"g":"s"},{"x":-0.8,"y":3.7,"g":"s"},{"x":-0.6,"y":3.75,"g":"s"},{"x":-0.4,"y":3.7,"g":"s"},{"x":-0.2,"y":3.75,"g":"s"},
  {"x":-1.1,"y":4.05,"g":"s"},{"x":-0.9,"y":4.0,"g":"s"},{"x":-0.7,"y":4.05,"g":"s"},{"x":-0.5,"y":4.0,"g":"s"},{"x":-0.3,"y":4.05,"g":"s"},{"x":-0.15,"y":4.1,"g":"s"},
  {"x":-1.3,"y":4.4,"g":"s"},{"x":-0.8,"y":4.35,"g":"s"},{"x":-0.6,"y":4.4,"g":"s"},{"x":-0.4,"y":4.35,"g":"s"},{"x":-0.2,"y":4.4,"g":"s"},
  {"x":-1.4,"y":4.8,"g":"s"},{"x":-1.0,"y":4.7,"g":"s"},{"x":-0.7,"y":4.75,"g":"s"},{"x":-0.45,"y":4.7,"g":"s"},{"x":-0.25,"y":4.8,"g":"s"},
  {"x":-1.2,"y":5.1,"g":"s"},{"x":-0.8,"y":5.2,"g":"s"},{"x":-0.5,"y":5.1,"g":"s"},{"x":-0.3,"y":5.15,"g":"s"},
  {"x":-1.0,"y":5.5,"g":"s"},{"x":-0.6,"y":5.6,"g":"s"},{"x":-0.35,"y":5.5,"g":"s"},{"x":-0.2,"y":5.7,"g":"s"},
  {"x":-0.7,"y":6.0,"g":"s"},{"x":-0.4,"y":6.3,"g":"s"},{"x":-0.25,"y":6.1,"g":"s"},
  {"x":-1.3,"y":6.9,"g":"s"},{"x":-0.5,"y":6.6,"g":"s"},{"x":-0.2,"y":6.9,"g":"s"},{"x":-2.6,"y":7.3,"g":"s"},{"x":-0.35,"y":7.7,"g":"s"},{"x":-0.15,"y":8.4,"g":"s"},{"x":-0.05,"y":10.0,"g":"s"},{"x":-0.05,"y":7.6,"g":"s"},{"x":-1.6,"y":4.6,"g":"s"},{"x":-1.45,"y":3.9,"g":"s"},{"x":-1.7,"y":3.3,"g":"s"},
  {"x":0.2,"y":3.1,"g":"s"},{"x":0.4,"y":3.05,"g":"s"},{"x":0.6,"y":3.1,"g":"s"},{"x":0.8,"y":3.05,"g":"s"},{"x":1.0,"y":3.1,"g":"s"},{"x":1.2,"y":3.05,"g":"s"},{"x":1.4,"y":3.1,"g":"s"},
  {"x":0.15,"y":3.4,"g":"s"},{"x":0.35,"y":3.35,"g":"s"},{"x":0.55,"y":3.4,"g":"s"},{"x":0.75,"y":3.35,"g":"s"},{"x":0.95,"y":3.4,"g":"s"},{"x":1.15,"y":3.35,"g":"s"},{"x":1.35,"y":3.4,"g":"s"},
  {"x":0.2,"y":3.7,"g":"s"},{"x":0.4,"y":3.75,"g":"s"},{"x":0.6,"y":3.7,"g":"s"},{"x":0.8,"y":3.75,"g":"s"},{"x":1.0,"y":3.7,"g":"s"},{"x":1.2,"y":3.75,"g":"s"},{"x":1.5,"y":3.8,"g":"s"},
  {"x":0.15,"y":4.05,"g":"s"},{"x":0.35,"y":4.0,"g":"s"},{"x":0.55,"y":4.05,"g":"s"},{"x":0.75,"y":4.0,"g":"s"},{"x":0.95,"y":4.05,"g":"s"},{"x":1.3,"y":4.1,"g":"s"},
  {"x":0.2,"y":4.4,"g":"s"},{"x":0.45,"y":4.35,"g":"s"},{"x":0.7,"y":4.4,"g":"s"},{"x":1.0,"y":4.45,"g":"s"},{"x":1.5,"y":4.6,"g":"s"},
  {"x":0.25,"y":4.8,"g":"s"},{"x":0.5,"y":4.75,"g":"s"},{"x":0.8,"y":4.8,"g":"s"},{"x":1.2,"y":4.9,"g":"s"},
  {"x":0.2,"y":5.1,"g":"s"},{"x":0.45,"y":5.2,"g":"s"},{"x":0.9,"y":5.3,"g":"s"},{"x":1.4,"y":5.6,"g":"s"},
  {"x":0.3,"y":5.6,"g":"s"},{"x":0.6,"y":5.9,"g":"s"},{"x":1.2,"y":5.9,"g":"s"},
  {"x":0.2,"y":6.2,"g":"s"},{"x":0.5,"y":6.5,"g":"s"},{"x":1.2,"y":7.3,"g":"s"},{"x":0.05,"y":6.8,"g":"s"},
  {"x":1.4,"y":10,"g":"s"},{"x":1.5,"y":10,"g":"s"},{"x":1.6,"y":10,"g":"s"},{"x":1.75,"y":10,"g":"s"},{"x":1.95,"y":10,"g":"s"},{"x":2.4,"y":10,"g":"s"},{"x":1.45,"y":9.6,"g":"s"},{"x":1.45,"y":9.3,"g":"s"},{"x":1.6,"y":4.0,"g":"s"},{"x":1.8,"y":3.5,"g":"s"}
 ],
 "go": [
  {"t":"GO:0051607: defense response to virus","v":15.2,"c":"a"},
  {"t":"GO:0045088: regulation of innate immune response","v":11.5,"c":"a"},
  {"t":"GO:0002228: natural killer cell mediated immunity","v":9.2,"c":"b"},
  {"t":"GO:0002683: negative regulation of immune system process","v":7.7,"c":"b"},
  {"t":"GO:0050792: regulation of viral process","v":7.24,"c":"b"},
  {"t":"GO:0050865: regulation of cell activation","v":7.0,"c":"b"},
  {"t":"GO:0042287: MHC protein binding","v":6.9,"c":"b"},
  {"t":"GO:0045824: negative regulation of innate immune response","v":6.5,"c":"b"},
  {"t":"GO:0050852: T cell receptor signaling pathway","v":6.04,"c":"b"},
  {"t":"GO:0043123: positive regulation of I-kappaB kinase/NF-kappaB signaling","v":5.9,"c":"c"},
  {"t":"GO:0023024: MHC class I protein complex binding","v":5.6,"c":"c"},
  {"t":"GO:0060759: regulation of response to cytokine stimulus","v":5.13,"c":"c"},
  {"t":"GO:0060330: regulation of response to interferon-gamma","v":5.07,"c":"c"},
  {"t":"GO:0004175: endopeptidase activity","v":5.06,"c":"c"},
  {"t":"GO:0006968: cellular defense response","v":4.96,"c":"c"},
  {"t":"GO:0034103: regulation of tissue remodeling","v":4.78,"c":"c"},
  {"t":"GO:0019835: cytolysis","v":4.76,"c":"c"},
  {"t":"GO:0035456: response to interferon-beta","v":4.5,"c":"c"},
  {"t":"GO:0005525: GTP binding","v":4.48,"c":"c"},
  {"t":"GO:0046718: viral entry into host cell","v":4.43,"c":"c"}
 ]
},
"vconcat": [
 {"spacing": 11, "hconcat": [
  {"title": {"text": "(A)", "orient": "left", "angle": 0, "anchor": "end", "align": "left", "baseline": "top", "fontSize": 10.5, "fontWeight": "bold", "offset": 12, "color": "#111111"},
   "spacing": 0, "bounds": "flush", "resolve": {"scale": {"stroke": "independent"}},
   "vconcat": [
    {"width": 178, "height": 70, "title": {"text": ["Enrichment plot:", "KEGG_OXIDATIVE_PHOSPHORYLATION"], "fontSize": 7, "fontWeight": "bold", "lineHeight": 10, "offset": 6, "frame": "bounds", "anchor": "middle", "color": "#222222"},
     "data": {"name": "es"}, "transform": [{"filter": "datum.p === 'A'"}], "mark": {"type": "line", "color": "#33e633", "strokeWidth": 1.2},
     "encoding": {"x": {"field": "r", "type": "quantitative", "scale": {"domain": [0, 20500], "nice": false}, "axis": {"values": [0,2000,4000,6000,8000,10000,12000,14000,16000,18000,20000], "tickCount": 20, "labels": false, "ticks": false, "domain": false, "title": null, "grid": true}},
      "y": {"field": "e", "type": "quantitative", "scale": {"domain": [0, 0.67], "nice": false}, "axis": {"values": [0,0.1,0.2,0.3,0.4,0.5,0.6], "tickCount": 20, "format": ".1f", "title": "Enrichment score (ES)", "titleFont": "Liberation Serif", "titleFontSize": 6.5, "grid": true}}}},
    {"width": 178, "height": 25, "data": {"name": "hits"}, "transform": [{"filter": "datum.p === 'A'"}], "mark": {"type": "rule", "color": "#1a1a1a", "strokeWidth": 0.6},
     "encoding": {"x": {"field": "r", "type": "quantitative", "scale": {"domain": [0, 20500], "nice": false}, "axis": null}}},
    {"width": 178, "height": 6, "data": {"name": "bar"}, "mark": {"type": "rect"},
     "encoding": {"x": {"field": "a", "type": "quantitative", "scale": {"domain": [0, 20500], "nice": false}, "axis": null}, "x2": {"field": "b"},
      "fill": {"field": "s", "type": "nominal", "scale": {"domain": ["1","2","3","4","5","6","7","8","9","10"], "range": ["#e22b2b","#ec4d4d","#f27272","#f69a9a","#f4b9e2","#dcdcf8","#c6c6f5","#8e8ef0","#5c5ce6","#1818c4"]}, "legend": null}}},
    {"width": 178, "height": 50, "layer": [
      {"data": {"name": "metric"}, "mark": {"type": "area", "color": "#b3b3b3"},
       "encoding": {"x": {"field": "r", "type": "quantitative", "scale": {"domain": [0, 20500], "nice": false}, "axis": {"values": [0,2000,4000,6000,8000,10000,12000,14000,16000,18000,20000], "tickCount": 20, "format": ",.0f", "title": "Rank in Ordered Dataset", "grid": true, "labelFontSize": 3.8}},
        "y": {"field": "m", "type": "quantitative", "scale": {"domain": [-0.85, 0.8], "nice": false}, "axis": {"values": [-0.5,0,0.5], "tickCount": 20, "format": ".1f", "title": "Ranked list metric (Signal2Noise)", "titleFontSize": 3.8}}, "y2": {"datum": 0}}},
      {"data": {"name": "metric"}, "mark": {"type": "line", "strokeWidth": 0.4},
       "encoding": {"x": {"field": "r", "type": "quantitative"}, "y": {"field": "m", "type": "quantitative"},
        "stroke": {"datum": "Ranking metric scores", "type": "nominal", "scale": {"domain": ["Enrichment profile", "Hits", "Ranking metric scores"], "range": ["#33e633", "#555555", "#cccccc"]}, "legend": {"title": null}}}},
      {"data": {"values": [{}]}, "mark": {"type": "rule", "strokeDash": [2, 2], "color": "#999999", "strokeWidth": 0.5}, "encoding": {"x": {"datum": 8429}}},
      {"data": {"values": [{}]}, "mark": {"type": "text", "fontSize": 3.6, "color": "#555555", "baseline": "bottom", "dy": -0.5}, "encoding": {"x": {"datum": 8429}, "y": {"datum": 0}, "text": {"value": "Zero cross at 8429"}}},
      {"data": {"values": [{}]}, "mark": {"type": "text", "fontSize": 3.6, "color": "#ff3333", "align": "left", "baseline": "top", "dx": 1}, "encoding": {"x": {"datum": 0}, "y": {"datum": 0.8}, "text": {"value": "'N' (positively correlated)"}}},
      {"data": {"values": [{}]}, "mark": {"type": "text", "fontSize": 3.6, "color": "#3333ff"}, "encoding": {"x": {"datum": 13000}, "y": {"datum": -0.65}, "text": {"value": "'T' (negatively correlated)"}}}
    ]}
   ]},
  {"title": {"text": "(B)", "orient": "left", "angle": 0, "anchor": "end", "align": "left", "baseline": "top", "fontSize": 10.5, "fontWeight": "bold", "offset": 12, "color": "#111111"},
   "spacing": 0, "bounds": "flush", "resolve": {"scale": {"stroke": "independent"}},
   "vconcat": [
    {"width": 178, "height": 70, "title": {"text": ["Enrichment plot: KEGG_PROTEIN_EXPORT", " "], "fontSize": 7, "fontWeight": "bold", "lineHeight": 10, "offset": 6, "frame": "bounds", "anchor": "middle", "color": "#222222"},
     "data": {"name": "es"}, "transform": [{"filter": "datum.p === 'B'"}], "mark": {"type": "line", "color": "#33e633", "strokeWidth": 1.2},
     "encoding": {"x": {"field": "r", "type": "quantitative", "scale": {"domain": [0, 20500], "nice": false}, "axis": {"values": [0,2000,4000,6000,8000,10000,12000,14000,16000,18000,20000], "tickCount": 20, "labels": false, "ticks": false, "domain": false, "title": null, "grid": true}},
      "y": {"field": "e", "type": "quantitative", "scale": {"domain": [0, 0.72], "nice": false}, "axis": {"values": [0,0.1,0.2,0.3,0.4,0.5,0.6,0.7], "tickCount": 20, "format": ".1f", "title": "Enrichment score (ES)", "titleFont": "Liberation Serif", "titleFontSize": 6.5, "grid": true}}}},
    {"width": 178, "height": 25, "data": {"name": "hits"}, "transform": [{"filter": "datum.p === 'B'"}], "mark": {"type": "rule", "color": "#1a1a1a", "strokeWidth": 0.6},
     "encoding": {"x": {"field": "r", "type": "quantitative", "scale": {"domain": [0, 20500], "nice": false}, "axis": null}}},
    {"width": 178, "height": 6, "data": {"name": "bar"}, "mark": {"type": "rect"},
     "encoding": {"x": {"field": "a", "type": "quantitative", "scale": {"domain": [0, 20500], "nice": false}, "axis": null}, "x2": {"field": "b"},
      "fill": {"field": "s", "type": "nominal", "scale": {"domain": ["1","2","3","4","5","6","7","8","9","10"], "range": ["#e22b2b","#ec4d4d","#f27272","#f69a9a","#f4b9e2","#dcdcf8","#c6c6f5","#8e8ef0","#5c5ce6","#1818c4"]}, "legend": null}}},
    {"width": 178, "height": 50, "layer": [
      {"data": {"name": "metric"}, "mark": {"type": "area", "color": "#b3b3b3"},
       "encoding": {"x": {"field": "r", "type": "quantitative", "scale": {"domain": [0, 20500], "nice": false}, "axis": {"values": [0,2000,4000,6000,8000,10000,12000,14000,16000,18000,20000], "tickCount": 20, "format": ",.0f", "title": "Rank in Ordered Dataset", "grid": true, "labelFontSize": 3.8}},
        "y": {"field": "m", "type": "quantitative", "scale": {"domain": [-0.85, 0.85], "nice": false}, "axis": {"values": [-0.8,-0.6,-0.4,-0.2,0,0.2,0.4,0.6,0.8], "tickCount": 20, "format": ".1f", "title": "Ranked list metric (Signal2Noise)", "titleFontSize": 3.8}}, "y2": {"datum": 0}}},
      {"data": {"name": "metric"}, "mark": {"type": "line", "strokeWidth": 0.4},
       "encoding": {"x": {"field": "r", "type": "quantitative"}, "y": {"field": "m", "type": "quantitative"},
        "stroke": {"datum": "Ranking metric scores", "type": "nominal", "scale": {"domain": ["Enrichment profile", "Hits", "Ranking metric scores"], "range": ["#33e633", "#555555", "#cccccc"]}, "legend": {"title": null}}}},
      {"data": {"values": [{}]}, "mark": {"type": "rule", "strokeDash": [2, 2], "color": "#999999", "strokeWidth": 0.5}, "encoding": {"x": {"datum": 8429}}},
      {"data": {"values": [{}]}, "mark": {"type": "text", "fontSize": 3.6, "color": "#555555", "baseline": "bottom", "dy": -0.5}, "encoding": {"x": {"datum": 8429}, "y": {"datum": 0}, "text": {"value": "Zero cross at 8429"}}},
      {"data": {"values": [{}]}, "mark": {"type": "text", "fontSize": 3.6, "color": "#ff3333", "align": "left", "baseline": "top", "dx": 1}, "encoding": {"x": {"datum": 0}, "y": {"datum": 0.85}, "text": {"value": "'N' (positively correlated)"}}},
      {"data": {"values": [{}]}, "mark": {"type": "text", "fontSize": 3.6, "color": "#3333ff"}, "encoding": {"x": {"datum": 13000}, "y": {"datum": -0.65}, "text": {"value": "'T' (negatively correlated)"}}}
    ]}
   ]},
  {"title": {"text": "(C)", "orient": "left", "angle": 0, "anchor": "end", "align": "left", "baseline": "top", "fontSize": 10.5, "fontWeight": "bold", "offset": 12, "color": "#111111"},
   "spacing": 0, "bounds": "flush", "resolve": {"scale": {"stroke": "independent"}},
   "vconcat": [
    {"width": 178, "height": 70, "title": {"text": ["Enrichment plot: KEGG_RIBOSOME", " "], "fontSize": 7, "fontWeight": "bold", "lineHeight": 10, "offset": 6, "frame": "bounds", "anchor": "middle", "color": "#222222"},
     "data": {"name": "es"}, "transform": [{"filter": "datum.p === 'C'"}], "mark": {"type": "line", "color": "#33e633", "strokeWidth": 1.2},
     "encoding": {"x": {"field": "r", "type": "quantitative", "scale": {"domain": [0, 20500], "nice": false}, "axis": {"values": [0,2000,4000,6000,8000,10000,12000,14000,16000,18000,20000], "tickCount": 20, "labels": false, "ticks": false, "domain": false, "title": null, "grid": true}},
      "y": {"field": "e", "type": "quantitative", "scale": {"domain": [0, 0.82], "nice": false}, "axis": {"values": [0,0.1,0.2,0.3,0.4,0.5,0.6,0.7,0.8], "tickCount": 20, "format": ".1f", "title": "Enrichment score (ES)", "titleFont": "Liberation Serif", "titleFontSize": 6.5, "grid": true}}}},
    {"width": 178, "height": 25, "data": {"name": "hits"}, "transform": [{"filter": "datum.p === 'C'"}], "mark": {"type": "rule", "color": "#1a1a1a", "strokeWidth": 0.6},
     "encoding": {"x": {"field": "r", "type": "quantitative", "scale": {"domain": [0, 20500], "nice": false}, "axis": null}}},
    {"width": 178, "height": 6, "data": {"name": "bar"}, "mark": {"type": "rect"},
     "encoding": {"x": {"field": "a", "type": "quantitative", "scale": {"domain": [0, 20500], "nice": false}, "axis": null}, "x2": {"field": "b"},
      "fill": {"field": "s", "type": "nominal", "scale": {"domain": ["1","2","3","4","5","6","7","8","9","10"], "range": ["#e22b2b","#ec4d4d","#f27272","#f69a9a","#f4b9e2","#dcdcf8","#c6c6f5","#8e8ef0","#5c5ce6","#1818c4"]}, "legend": null}}},
    {"width": 178, "height": 50, "layer": [
      {"data": {"name": "metric"}, "mark": {"type": "area", "color": "#b3b3b3"},
       "encoding": {"x": {"field": "r", "type": "quantitative", "scale": {"domain": [0, 20500], "nice": false}, "axis": {"values": [0,2000,4000,6000,8000,10000,12000,14000,16000,18000,20000], "tickCount": 20, "format": ",.0f", "title": "Rank in Ordered Dataset", "grid": true, "labelFontSize": 3.8}},
        "y": {"field": "m", "type": "quantitative", "scale": {"domain": [-0.85, 0.85], "nice": false}, "axis": {"values": [-0.8,-0.6,-0.4,-0.2,0,0.2,0.4,0.6,0.8], "tickCount": 20, "format": ".1f", "title": "Ranked list metric (Signal2Noise)", "titleFontSize": 3.8}}, "y2": {"datum": 0}}},
      {"data": {"name": "metric"}, "mark": {"type": "line", "strokeWidth": 0.4},
       "encoding": {"x": {"field": "r", "type": "quantitative"}, "y": {"field": "m", "type": "quantitative"},
        "stroke": {"datum": "Ranking metric scores", "type": "nominal", "scale": {"domain": ["Enrichment profile", "Hits", "Ranking metric scores"], "range": ["#33e633", "#555555", "#cccccc"]}, "legend": {"title": null}}}},
      {"data": {"values": [{}]}, "mark": {"type": "rule", "strokeDash": [2, 2], "color": "#999999", "strokeWidth": 0.5}, "encoding": {"x": {"datum": 8429}}},
      {"data": {"values": [{}]}, "mark": {"type": "text", "fontSize": 3.6, "color": "#555555", "baseline": "bottom", "dy": -0.5}, "encoding": {"x": {"datum": 8429}, "y": {"datum": 0}, "text": {"value": "Zero cross at 8429"}}},
      {"data": {"values": [{}]}, "mark": {"type": "text", "fontSize": 3.6, "color": "#ff3333", "align": "left", "baseline": "top", "dx": 1}, "encoding": {"x": {"datum": 0}, "y": {"datum": 0.85}, "text": {"value": "'N' (positively correlated)"}}},
      {"data": {"values": [{}]}, "mark": {"type": "text", "fontSize": 3.6, "color": "#3333ff"}, "encoding": {"x": {"datum": 13000}, "y": {"datum": -0.65}, "text": {"value": "'T' (negatively correlated)"}}}
    ]}
   ]}
 ]},
 {"spacing": 11, "hconcat": [
  {"title": {"text": "(D)", "orient": "left", "angle": 0, "anchor": "end", "align": "left", "baseline": "top", "fontSize": 10.5, "fontWeight": "bold", "offset": 12, "color": "#111111"},
   "spacing": 0, "bounds": "flush", "resolve": {"scale": {"stroke": "independent"}},
   "vconcat": [
    {"width": 178, "height": 70, "title": {"text": ["Enrichment plot:", "KEGG_FC_GAMMA_R_MEDIATED_PHAGOCYTOSIS"], "fontSize": 7, "fontWeight": "bold", "lineHeight": 10, "offset": 6, "frame": "bounds", "anchor": "middle", "color": "#222222"},
     "data": {"name": "es"}, "transform": [{"filter": "datum.p === 'D'"}], "mark": {"type": "line", "color": "#33e633", "strokeWidth": 1.2},
     "encoding": {"x": {"field": "r", "type": "quantitative", "scale": {"domain": [0, 20500], "nice": false}, "axis": {"values": [0,2000,4000,6000,8000,10000,12000,14000,16000,18000,20000], "tickCount": 20, "labels": false, "ticks": false, "domain": false, "title": null, "grid": true}},
      "y": {"field": "e", "type": "quantitative", "scale": {"domain": [-0.53, 0.02], "nice": false}, "axis": {"values": [-0.5,-0.4,-0.3,-0.2,-0.1,0], "tickCount": 20, "format": ".1f", "title": "Enrichment score (ES)", "titleFont": "Liberation Serif", "titleFontSize": 6.5, "grid": true}}}},
    {"width": 178, "height": 25, "data": {"name": "hits"}, "transform": [{"filter": "datum.p === 'D'"}], "mark": {"type": "rule", "color": "#1a1a1a", "strokeWidth": 0.6},
     "encoding": {"x": {"field": "r", "type": "quantitative", "scale": {"domain": [0, 20500], "nice": false}, "axis": null}}},
    {"width": 178, "height": 6, "data": {"name": "bar"}, "mark": {"type": "rect"},
     "encoding": {"x": {"field": "a", "type": "quantitative", "scale": {"domain": [0, 20500], "nice": false}, "axis": null}, "x2": {"field": "b"},
      "fill": {"field": "s", "type": "nominal", "scale": {"domain": ["1","2","3","4","5","6","7","8","9","10"], "range": ["#e22b2b","#ec4d4d","#f27272","#f69a9a","#f4b9e2","#dcdcf8","#c6c6f5","#8e8ef0","#5c5ce6","#1818c4"]}, "legend": null}}},
    {"width": 178, "height": 50, "layer": [
      {"data": {"name": "metric"}, "mark": {"type": "area", "color": "#b3b3b3"},
       "encoding": {"x": {"field": "r", "type": "quantitative", "scale": {"domain": [0, 20500], "nice": false}, "axis": {"values": [0,2000,4000,6000,8000,10000,12000,14000,16000,18000,20000], "tickCount": 20, "format": ",.0f", "title": "Rank in Ordered Dataset", "grid": true, "labelFontSize": 3.8}},
        "y": {"field": "m", "type": "quantitative", "scale": {"domain": [-0.85, 0.8], "nice": false}, "axis": {"values": [-0.5,0,0.5], "tickCount": 20, "format": ".1f", "title": "Ranked list metric (Signal2Noise)", "titleFontSize": 3.8}}, "y2": {"datum": 0}}},
      {"data": {"name": "metric"}, "mark": {"type": "line", "strokeWidth": 0.4},
       "encoding": {"x": {"field": "r", "type": "quantitative"}, "y": {"field": "m", "type": "quantitative"},
        "stroke": {"datum": "Ranking metric scores", "type": "nominal", "scale": {"domain": ["Enrichment profile", "Hits", "Ranking metric scores"], "range": ["#33e633", "#555555", "#cccccc"]}, "legend": {"title": null}}}},
      {"data": {"values": [{}]}, "mark": {"type": "rule", "strokeDash": [2, 2], "color": "#999999", "strokeWidth": 0.5}, "encoding": {"x": {"datum": 8429}}},
      {"data": {"values": [{}]}, "mark": {"type": "text", "fontSize": 3.6, "color": "#555555", "baseline": "bottom", "dy": -0.5}, "encoding": {"x": {"datum": 8429}, "y": {"datum": 0}, "text": {"value": "Zero cross at 8429"}}},
      {"data": {"values": [{}]}, "mark": {"type": "text", "fontSize": 3.6, "color": "#ff3333", "align": "left", "baseline": "top", "dx": 1}, "encoding": {"x": {"datum": 0}, "y": {"datum": 0.8}, "text": {"value": "'N' (positively correlated)"}}},
      {"data": {"values": [{}]}, "mark": {"type": "text", "fontSize": 3.6, "color": "#3333ff"}, "encoding": {"x": {"datum": 13000}, "y": {"datum": -0.65}, "text": {"value": "'T' (negatively correlated)"}}}
    ]}
   ]},
  {"title": {"text": "(E)", "orient": "left", "angle": 0, "anchor": "end", "align": "left", "baseline": "top", "fontSize": 10.5, "fontWeight": "bold", "offset": 12, "color": "#111111"},
   "spacing": 0, "bounds": "flush", "resolve": {"scale": {"stroke": "independent"}},
   "vconcat": [
    {"width": 178, "height": 70, "title": {"text": ["Enrichment plot:", "KEGG_T_CELL_RECEPTOR_SIGNALING_PATHWAY"], "fontSize": 7, "fontWeight": "bold", "lineHeight": 10, "offset": 6, "frame": "bounds", "anchor": "middle", "color": "#222222"},
     "data": {"name": "es"}, "transform": [{"filter": "datum.p === 'E'"}], "mark": {"type": "line", "color": "#33e633", "strokeWidth": 1.2},
     "encoding": {"x": {"field": "r", "type": "quantitative", "scale": {"domain": [0, 20500], "nice": false}, "axis": {"values": [0,2000,4000,6000,8000,10000,12000,14000,16000,18000,20000], "tickCount": 20, "labels": false, "ticks": false, "domain": false, "title": null, "grid": true}},
      "y": {"field": "e", "type": "quantitative", "scale": {"domain": [-0.56, 0.02], "nice": false}, "axis": {"values": [-0.5,-0.4,-0.3,-0.2,-0.1,0], "tickCount": 20, "format": ".1f", "title": "Enrichment score (ES)", "titleFont": "Liberation Serif", "titleFontSize": 6.5, "grid": true}}}},
    {"width": 178, "height": 25, "data": {"name": "hits"}, "transform": [{"filter": "datum.p === 'E'"}], "mark": {"type": "rule", "color": "#1a1a1a", "strokeWidth": 0.6},
     "encoding": {"x": {"field": "r", "type": "quantitative", "scale": {"domain": [0, 20500], "nice": false}, "axis": null}}},
    {"width": 178, "height": 6, "data": {"name": "bar"}, "mark": {"type": "rect"},
     "encoding": {"x": {"field": "a", "type": "quantitative", "scale": {"domain": [0, 20500], "nice": false}, "axis": null}, "x2": {"field": "b"},
      "fill": {"field": "s", "type": "nominal", "scale": {"domain": ["1","2","3","4","5","6","7","8","9","10"], "range": ["#e22b2b","#ec4d4d","#f27272","#f69a9a","#f4b9e2","#dcdcf8","#c6c6f5","#8e8ef0","#5c5ce6","#1818c4"]}, "legend": null}}},
    {"width": 178, "height": 50, "layer": [
      {"data": {"name": "metric"}, "mark": {"type": "area", "color": "#b3b3b3"},
       "encoding": {"x": {"field": "r", "type": "quantitative", "scale": {"domain": [0, 20500], "nice": false}, "axis": {"values": [0,2000,4000,6000,8000,10000,12000,14000,16000,18000,20000], "tickCount": 20, "format": ",.0f", "title": "Rank in Ordered Dataset", "grid": true, "labelFontSize": 3.8}},
        "y": {"field": "m", "type": "quantitative", "scale": {"domain": [-0.85, 0.8], "nice": false}, "axis": {"values": [-0.5,0,0.5], "tickCount": 20, "format": ".1f", "title": "Ranked list metric (Signal2Noise)", "titleFontSize": 3.8}}, "y2": {"datum": 0}}},
      {"data": {"name": "metric"}, "mark": {"type": "line", "strokeWidth": 0.4},
       "encoding": {"x": {"field": "r", "type": "quantitative"}, "y": {"field": "m", "type": "quantitative"},
        "stroke": {"datum": "Ranking metric scores", "type": "nominal", "scale": {"domain": ["Enrichment profile", "Hits", "Ranking metric scores"], "range": ["#33e633", "#555555", "#cccccc"]}, "legend": {"title": null}}}},
      {"data": {"values": [{}]}, "mark": {"type": "rule", "strokeDash": [2, 2], "color": "#999999", "strokeWidth": 0.5}, "encoding": {"x": {"datum": 8429}}},
      {"data": {"values": [{}]}, "mark": {"type": "text", "fontSize": 3.6, "color": "#555555", "baseline": "bottom", "dy": -0.5}, "encoding": {"x": {"datum": 8429}, "y": {"datum": 0}, "text": {"value": "Zero cross at 8429"}}},
      {"data": {"values": [{}]}, "mark": {"type": "text", "fontSize": 3.6, "color": "#ff3333", "align": "left", "baseline": "top", "dx": 1}, "encoding": {"x": {"datum": 0}, "y": {"datum": 0.8}, "text": {"value": "'N' (positively correlated)"}}},
      {"data": {"values": [{}]}, "mark": {"type": "text", "fontSize": 3.6, "color": "#3333ff"}, "encoding": {"x": {"datum": 13000}, "y": {"datum": -0.65}, "text": {"value": "'T' (negatively correlated)"}}}
    ]}
   ]},
  {"title": {"text": "(F)", "orient": "left", "angle": 0, "anchor": "end", "align": "left", "baseline": "top", "fontSize": 10.5, "fontWeight": "bold", "offset": 12, "color": "#111111"},
   "spacing": 0, "bounds": "flush", "resolve": {"scale": {"stroke": "independent"}},
   "vconcat": [
    {"width": 178, "height": 70, "title": {"text": ["Enrichment plot:", "KEGG_B_CELL_RECEPTOR_SIGNALING_PATHWAY"], "fontSize": 7, "fontWeight": "bold", "lineHeight": 10, "offset": 6, "frame": "bounds", "anchor": "middle", "color": "#222222"},
     "data": {"name": "es"}, "transform": [{"filter": "datum.p === 'F'"}], "mark": {"type": "line", "color": "#33e633", "strokeWidth": 1.2},
     "encoding": {"x": {"field": "r", "type": "quantitative", "scale": {"domain": [0, 20500], "nice": false}, "axis": {"values": [0,2000,4000,6000,8000,10000,12000,14000,16000,18000,20000], "tickCount": 20, "labels": false, "ticks": false, "domain": false, "title": null, "grid": true}},
      "y": {"field": "e", "type": "quantitative", "scale": {"domain": [-0.56, 0.02], "nice": false}, "axis": {"values": [-0.5,-0.4,-0.3,-0.2,-0.1,0], "tickCount": 20, "format": ".1f", "title": "Enrichment score (ES)", "titleFont": "Liberation Serif", "titleFontSize": 6.5, "grid": true}}}},
    {"width": 178, "height": 25, "data": {"name": "hits"}, "transform": [{"filter": "datum.p === 'F'"}], "mark": {"type": "rule", "color": "#1a1a1a", "strokeWidth": 0.6},
     "encoding": {"x": {"field": "r", "type": "quantitative", "scale": {"domain": [0, 20500], "nice": false}, "axis": null}}},
    {"width": 178, "height": 6, "data": {"name": "bar"}, "mark": {"type": "rect"},
     "encoding": {"x": {"field": "a", "type": "quantitative", "scale": {"domain": [0, 20500], "nice": false}, "axis": null}, "x2": {"field": "b"},
      "fill": {"field": "s", "type": "nominal", "scale": {"domain": ["1","2","3","4","5","6","7","8","9","10"], "range": ["#e22b2b","#ec4d4d","#f27272","#f69a9a","#f4b9e2","#dcdcf8","#c6c6f5","#8e8ef0","#5c5ce6","#1818c4"]}, "legend": null}}},
    {"width": 178, "height": 50, "layer": [
      {"data": {"name": "metric"}, "mark": {"type": "area", "color": "#b3b3b3"},
       "encoding": {"x": {"field": "r", "type": "quantitative", "scale": {"domain": [0, 20500], "nice": false}, "axis": {"values": [0,2000,4000,6000,8000,10000,12000,14000,16000,18000,20000], "tickCount": 20, "format": ",.0f", "title": "Rank in Ordered Dataset", "grid": true, "labelFontSize": 3.8}},
        "y": {"field": "m", "type": "quantitative", "scale": {"domain": [-0.85, 0.8], "nice": false}, "axis": {"values": [-0.5,0,0.5], "tickCount": 20, "format": ".1f", "title": "Ranked list metric (Signal2Noise)", "titleFontSize": 3.8}}, "y2": {"datum": 0}}},
      {"data": {"name": "metric"}, "mark": {"type": "line", "strokeWidth": 0.4},
       "encoding": {"x": {"field": "r", "type": "quantitative"}, "y": {"field": "m", "type": "quantitative"},
        "stroke": {"datum": "Ranking metric scores", "type": "nominal", "scale": {"domain": ["Enrichment profile", "Hits", "Ranking metric scores"], "range": ["#33e633", "#555555", "#cccccc"]}, "legend": {"title": null}}}},
      {"data": {"values": [{}]}, "mark": {"type": "rule", "strokeDash": [2, 2], "color": "#999999", "strokeWidth": 0.5}, "encoding": {"x": {"datum": 8429}}},
      {"data": {"values": [{}]}, "mark": {"type": "text", "fontSize": 3.6, "color": "#555555", "baseline": "bottom", "dy": -0.5}, "encoding": {"x": {"datum": 8429}, "y": {"datum": 0}, "text": {"value": "Zero cross at 8429"}}},
      {"data": {"values": [{}]}, "mark": {"type": "text", "fontSize": 3.6, "color": "#ff3333", "align": "left", "baseline": "top", "dx": 1}, "encoding": {"x": {"datum": 0}, "y": {"datum": 0.8}, "text": {"value": "'N' (positively correlated)"}}},
      {"data": {"values": [{}]}, "mark": {"type": "text", "fontSize": 3.6, "color": "#3333ff"}, "encoding": {"x": {"datum": 13000}, "y": {"datum": -0.65}, "text": {"value": "'T' (negatively correlated)"}}}
    ]}
   ]}
 ]},
 {"spacing": 11, "hconcat": [
  {"title": {"text": "(G)", "orient": "left", "angle": 0, "anchor": "end", "align": "left", "baseline": "top", "fontSize": 10.5, "fontWeight": "bold", "offset": 12, "color": "#111111"},
   "spacing": 0, "bounds": "flush", "resolve": {"scale": {"stroke": "independent"}},
   "vconcat": [
    {"width": 178, "height": 70, "title": {"text": ["Enrichment plot:", "KEGG_NATURAL_KILLER_CELL_MEDIATED_CYTOTOXI", "CITY"], "fontSize": 7, "fontWeight": "bold", "lineHeight": 10, "offset": 6, "frame": "bounds", "anchor": "middle", "color": "#222222"},
     "data": {"name": "es"}, "transform": [{"filter": "datum.p === 'G'"}], "mark": {"type": "line", "color": "#33e633", "strokeWidth": 1.2},
     "encoding": {"x": {"field": "r", "type": "quantitative", "scale": {"domain": [0, 20500], "nice": false}, "axis": {"values": [0,2000,4000,6000,8000,10000,12000,14000,16000,18000,20000], "tickCount": 20, "labels": false, "ticks": false, "domain": false, "title": null, "grid": true}},
      "y": {"field": "e", "type": "quantitative", "scale": {"domain": [-0.51, 0.02], "nice": false}, "axis": {"values": [-0.5,-0.4,-0.3,-0.2,-0.1,0], "tickCount": 20, "format": ".1f", "title": "Enrichment score (ES)", "titleFont": "Liberation Serif", "titleFontSize": 6.5, "grid": true}}}},
    {"width": 178, "height": 25, "data": {"name": "hits"}, "transform": [{"filter": "datum.p === 'G'"}], "mark": {"type": "rule", "color": "#1a1a1a", "strokeWidth": 0.6},
     "encoding": {"x": {"field": "r", "type": "quantitative", "scale": {"domain": [0, 20500], "nice": false}, "axis": null}}},
    {"width": 178, "height": 6, "data": {"name": "bar"}, "mark": {"type": "rect"},
     "encoding": {"x": {"field": "a", "type": "quantitative", "scale": {"domain": [0, 20500], "nice": false}, "axis": null}, "x2": {"field": "b"},
      "fill": {"field": "s", "type": "nominal", "scale": {"domain": ["1","2","3","4","5","6","7","8","9","10"], "range": ["#e22b2b","#ec4d4d","#f27272","#f69a9a","#f4b9e2","#dcdcf8","#c6c6f5","#8e8ef0","#5c5ce6","#1818c4"]}, "legend": null}}},
    {"width": 178, "height": 50, "layer": [
      {"data": {"name": "metric"}, "mark": {"type": "area", "color": "#b3b3b3"},
       "encoding": {"x": {"field": "r", "type": "quantitative", "scale": {"domain": [0, 20500], "nice": false}, "axis": {"values": [0,2000,4000,6000,8000,10000,12000,14000,16000,18000,20000], "tickCount": 20, "format": ",.0f", "title": "Rank in Ordered Dataset", "grid": true, "labelFontSize": 3.8}},
        "y": {"field": "m", "type": "quantitative", "scale": {"domain": [-0.85, 0.8], "nice": false}, "axis": {"values": [-0.5,0,0.5], "tickCount": 20, "format": ".1f", "title": "Ranked list metric (Signal2Noise)", "titleFontSize": 3.8}}, "y2": {"datum": 0}}},
      {"data": {"name": "metric"}, "mark": {"type": "line", "strokeWidth": 0.4},
       "encoding": {"x": {"field": "r", "type": "quantitative"}, "y": {"field": "m", "type": "quantitative"},
        "stroke": {"datum": "Ranking metric scores", "type": "nominal", "scale": {"domain": ["Enrichment profile", "Hits", "Ranking metric scores"], "range": ["#33e633", "#555555", "#cccccc"]}, "legend": {"title": null}}}},
      {"data": {"values": [{}]}, "mark": {"type": "rule", "strokeDash": [2, 2], "color": "#999999", "strokeWidth": 0.5}, "encoding": {"x": {"datum": 8429}}},
      {"data": {"values": [{}]}, "mark": {"type": "text", "fontSize": 3.6, "color": "#555555", "baseline": "bottom", "dy": -0.5}, "encoding": {"x": {"datum": 8429}, "y": {"datum": 0}, "text": {"value": "Zero cross at 8429"}}},
      {"data": {"values": [{}]}, "mark": {"type": "text", "fontSize": 3.6, "color": "#ff3333", "align": "left", "baseline": "top", "dx": 1}, "encoding": {"x": {"datum": 0}, "y": {"datum": 0.8}, "text": {"value": "'N' (positively correlated)"}}},
      {"data": {"values": [{}]}, "mark": {"type": "text", "fontSize": 3.6, "color": "#3333ff"}, "encoding": {"x": {"datum": 13000}, "y": {"datum": -0.65}, "text": {"value": "'T' (negatively correlated)"}}}
    ]}
   ]},
  {"title": {"text": "(H)", "orient": "left", "angle": 0, "anchor": "end", "align": "left", "baseline": "top", "fontSize": 10.5, "fontWeight": "bold", "offset": 12, "color": "#111111"},
   "spacing": 0, "bounds": "flush", "resolve": {"scale": {"stroke": "independent"}},
   "vconcat": [
    {"width": 178, "height": 70, "title": {"text": ["Enrichment plot:", "KEGG_CHEMOKINE_SIGNALING_PATHWAY"], "fontSize": 7, "fontWeight": "bold", "lineHeight": 10, "offset": 6, "frame": "bounds", "anchor": "middle", "color": "#222222"},
     "data": {"name": "es"}, "transform": [{"filter": "datum.p === 'H'"}], "mark": {"type": "line", "color": "#33e633", "strokeWidth": 1.2},
     "encoding": {"x": {"field": "r", "type": "quantitative", "scale": {"domain": [0, 20500], "nice": false}, "axis": {"values": [0,2000,4000,6000,8000,10000,12000,14000,16000,18000,20000], "tickCount": 20, "labels": false, "ticks": false, "domain": false, "title": null, "grid": true}},
      "y": {"field": "e", "type": "quantitative", "scale": {"domain": [-0.56, 0.02], "nice": false}, "axis": {"values": [-0.5,-0.4,-0.3,-0.2,-0.1,0], "tickCount": 20, "format": ".1f", "title": "Enrichment score (ES)", "titleFont": "Liberation Serif", "titleFontSize": 6.5, "grid": true}}}},
    {"width": 178, "height": 25, "data": {"name": "hits"}, "transform": [{"filter": "datum.p === 'H'"}], "mark": {"type": "rule", "color": "#1a1a1a", "strokeWidth": 0.6},
     "encoding": {"x": {"field": "r", "type": "quantitative", "scale": {"domain": [0, 20500], "nice": false}, "axis": null}}},
    {"width": 178, "height": 6, "data": {"name": "bar"}, "mark": {"type": "rect"},
     "encoding": {"x": {"field": "a", "type": "quantitative", "scale": {"domain": [0, 20500], "nice": false}, "axis": null}, "x2": {"field": "b"},
      "fill": {"field": "s", "type": "nominal", "scale": {"domain": ["1","2","3","4","5","6","7","8","9","10"], "range": ["#e22b2b","#ec4d4d","#f27272","#f69a9a","#f4b9e2","#dcdcf8","#c6c6f5","#8e8ef0","#5c5ce6","#1818c4"]}, "legend": null}}},
    {"width": 178, "height": 50, "layer": [
      {"data": {"name": "metric"}, "mark": {"type": "area", "color": "#b3b3b3"},
       "encoding": {"x": {"field": "r", "type": "quantitative", "scale": {"domain": [0, 20500], "nice": false}, "axis": {"values": [0,2000,4000,6000,8000,10000,12000,14000,16000,18000,20000], "tickCount": 20, "format": ",.0f", "title": "Rank in Ordered Dataset", "grid": true, "labelFontSize": 3.8}},
        "y": {"field": "m", "type": "quantitative", "scale": {"domain": [-0.85, 0.8], "nice": false}, "axis": {"values": [-0.5,0,0.5], "tickCount": 20, "format": ".1f", "title": "Ranked list metric (Signal2Noise)", "titleFontSize": 3.8}}, "y2": {"datum": 0}}},
      {"data": {"name": "metric"}, "mark": {"type": "line", "strokeWidth": 0.4},
       "encoding": {"x": {"field": "r", "type": "quantitative"}, "y": {"field": "m", "type": "quantitative"},
        "stroke": {"datum": "Ranking metric scores", "type": "nominal", "scale": {"domain": ["Enrichment profile", "Hits", "Ranking metric scores"], "range": ["#33e633", "#555555", "#cccccc"]}, "legend": {"title": null}}}},
      {"data": {"values": [{}]}, "mark": {"type": "rule", "strokeDash": [2, 2], "color": "#999999", "strokeWidth": 0.5}, "encoding": {"x": {"datum": 8429}}},
      {"data": {"values": [{}]}, "mark": {"type": "text", "fontSize": 3.6, "color": "#555555", "baseline": "bottom", "dy": -0.5}, "encoding": {"x": {"datum": 8429}, "y": {"datum": 0}, "text": {"value": "Zero cross at 8429"}}},
      {"data": {"values": [{}]}, "mark": {"type": "text", "fontSize": 3.6, "color": "#ff3333", "align": "left", "baseline": "top", "dx": 1}, "encoding": {"x": {"datum": 0}, "y": {"datum": 0.8}, "text": {"value": "'N' (positively correlated)"}}},
      {"data": {"values": [{}]}, "mark": {"type": "text", "fontSize": 3.6, "color": "#3333ff"}, "encoding": {"x": {"datum": 13000}, "y": {"datum": -0.65}, "text": {"value": "'T' (negatively correlated)"}}}
    ]}
   ]},
  {"title": {"text": "(J)", "orient": "left", "angle": 0, "anchor": "end", "align": "left", "baseline": "top", "fontSize": 10.5, "fontWeight": "bold", "offset": 12, "color": "#111111"},
   "spacing": 0, "bounds": "flush", "resolve": {"scale": {"stroke": "independent"}},
   "vconcat": [
    {"width": 178, "height": 70, "title": {"text": ["Enrichment plot:", "KEGG_LEUKOCYTE_TRANSENDOTHELIAL_MIGRATION"], "fontSize": 7, "fontWeight": "bold", "lineHeight": 10, "offset": 6, "frame": "bounds", "anchor": "middle", "color": "#222222"},
     "data": {"name": "es"}, "transform": [{"filter": "datum.p === 'J'"}], "mark": {"type": "line", "color": "#33e633", "strokeWidth": 1.2},
     "encoding": {"x": {"field": "r", "type": "quantitative", "scale": {"domain": [0, 20500], "nice": false}, "axis": {"values": [0,2000,4000,6000,8000,10000,12000,14000,16000,18000,20000], "tickCount": 20, "labels": false, "ticks": false, "domain": false, "title": null, "grid": true}},
      "y": {"field": "e", "type": "quantitative", "scale": {"domain": [-0.53, 0.02], "nice": false}, "axis": {"values": [-0.5,-0.4,-0.3,-0.2,-0.1,0], "tickCount": 20, "format": ".1f", "title": "Enrichment score (ES)", "titleFont": "Liberation Serif", "titleFontSize": 6.5, "grid": true}}}},
    {"width": 178, "height": 25, "data": {"name": "hits"}, "transform": [{"filter": "datum.p === 'J'"}], "mark": {"type": "rule", "color": "#1a1a1a", "strokeWidth": 0.6},
     "encoding": {"x": {"field": "r", "type": "quantitative", "scale": {"domain": [0, 20500], "nice": false}, "axis": null}}},
    {"width": 178, "height": 6, "data": {"name": "bar"}, "mark": {"type": "rect"},
     "encoding": {"x": {"field": "a", "type": "quantitative", "scale": {"domain": [0, 20500], "nice": false}, "axis": null}, "x2": {"field": "b"},
      "fill": {"field": "s", "type": "nominal", "scale": {"domain": ["1","2","3","4","5","6","7","8","9","10"], "range": ["#e22b2b","#ec4d4d","#f27272","#f69a9a","#f4b9e2","#dcdcf8","#c6c6f5","#8e8ef0","#5c5ce6","#1818c4"]}, "legend": null}}},
    {"width": 178, "height": 50, "layer": [
      {"data": {"name": "metric"}, "mark": {"type": "area", "color": "#b3b3b3"},
       "encoding": {"x": {"field": "r", "type": "quantitative", "scale": {"domain": [0, 20500], "nice": false}, "axis": {"values": [0,2000,4000,6000,8000,10000,12000,14000,16000,18000,20000], "tickCount": 20, "format": ",.0f", "title": "Rank in Ordered Dataset", "grid": true, "labelFontSize": 3.8}},
        "y": {"field": "m", "type": "quantitative", "scale": {"domain": [-0.85, 0.8], "nice": false}, "axis": {"values": [-0.5,0,0.5], "tickCount": 20, "format": ".1f", "title": "Ranked list metric (Signal2Noise)", "titleFontSize": 3.8}}, "y2": {"datum": 0}}},
      {"data": {"name": "metric"}, "mark": {"type": "line", "strokeWidth": 0.4},
       "encoding": {"x": {"field": "r", "type": "quantitative"}, "y": {"field": "m", "type": "quantitative"},
        "stroke": {"datum": "Ranking metric scores", "type": "nominal", "scale": {"domain": ["Enrichment profile", "Hits", "Ranking metric scores"], "range": ["#33e633", "#555555", "#cccccc"]}, "legend": {"title": null}}}},
      {"data": {"values": [{}]}, "mark": {"type": "rule", "strokeDash": [2, 2], "color": "#999999", "strokeWidth": 0.5}, "encoding": {"x": {"datum": 8429}}},
      {"data": {"values": [{}]}, "mark": {"type": "text", "fontSize": 3.6, "color": "#555555", "baseline": "bottom", "dy": -0.5}, "encoding": {"x": {"datum": 8429}, "y": {"datum": 0}, "text": {"value": "Zero cross at 8429"}}},
      {"data": {"values": [{}]}, "mark": {"type": "text", "fontSize": 3.6, "color": "#ff3333", "align": "left", "baseline": "top", "dx": 1}, "encoding": {"x": {"datum": 0}, "y": {"datum": 0.8}, "text": {"value": "'N' (positively correlated)"}}},
      {"data": {"values": [{}]}, "mark": {"type": "text", "fontSize": 3.6, "color": "#3333ff"}, "encoding": {"x": {"datum": 13000}, "y": {"datum": -0.65}, "text": {"value": "'T' (negatively correlated)"}}}
    ]}
   ]}
 ]},
 {"spacing": 4, "hconcat": [
  {"width": 125, "height": 151, "title": {"text": "(K)", "anchor": "start", "frame": "bounds", "fontSize": 10.5, "fontWeight": "bold", "offset": 2, "color": "#111111"},
   "view": {"stroke": null},
   "layer": [
    {"data": {"values": [{"gx": -3}, {"gx": -2}, {"gx": -1}, {"gx": 1}, {"gx": 2}, {"gx": 3}]}, "mark": {"type": "rule", "color": "#dddddd", "strokeDash": [1.5, 1.5], "strokeWidth": 0.7},
     "encoding": {"x": {"field": "gx", "type": "quantitative", "scale": {"domain": [-3, 3], "nice": false}, "axis": {"values": [-3,-2,-1,0,1,2,3], "tickCount": 20, "format": "d", "title": "Log Ratio", "grid": false, "ticks": false, "domain": true, "domainColor": "#333333", "domainWidth": 1.4, "labelFontSize": 6.5, "labelColor": "#555555", "labelPadding": 9, "titleFontSize": 6.5, "titleColor": "#555555", "titlePadding": 3}},
      "y": {"datum": -1, "type": "quantitative", "scale": {"domain": [-1, 12.85], "nice": false}, "axis": {"values": [2,4,6,8,10], "tickCount": 20, "format": "d", "title": "-log10 p-Value", "grid": true, "gridDash": [1.5, 1.5], "gridColor": "#dddddd", "gridWidth": 0.7, "ticks": false, "domain": false, "labelFontSize": 6.5, "labelColor": "#555555", "labelPadding": 5, "titleFontSize": 6.5, "titleColor": "#555555", "titlePadding": 8}},
      "y2": {"datum": 10.7}}},
    {"data": {"name": "vol"}, "transform": [{"filter": "datum.g === 'n'"}], "mark": {"type": "circle", "color": "#c8c8c8", "size": 13, "opacity": 0.85},
     "encoding": {"x": {"field": "x", "type": "quantitative", "title": "Log Ratio"}, "y": {"field": "y", "type": "quantitative", "title": "-log10 p-Value"}}},
    {"data": {"name": "vol"}, "transform": [{"filter": "datum.g === 's'"}], "mark": {"type": "circle", "color": "#62b0f4", "size": 13, "opacity": 0.9},
     "encoding": {"x": {"field": "x", "type": "quantitative", "title": "Log Ratio"}, "y": {"field": "y", "type": "quantitative", "title": "-log10 p-Value"}}},
    {"data": {"values": [{}]}, "mark": {"type": "rule", "color": "#333333", "strokeWidth": 1.2}, "encoding": {"x": {"datum": 0}, "y": {"datum": -1}, "y2": {"datum": 10.7}}},
    {"data": {"values": [{}]}, "mark": {"type": "text", "fontSize": 6, "color": "#555555", "align": "left", "baseline": "top", "dy": 1.5}, "encoding": {"x": {"datum": -3}, "y": {"datum": -1}, "text": {"value": "← Unaltered group"}}},
    {"data": {"values": [{}]}, "mark": {"type": "text", "fontSize": 6, "color": "#555555", "align": "right", "baseline": "top", "dy": 1.5}, "encoding": {"x": {"datum": 3}, "y": {"datum": -1}, "text": {"value": "Altered group →"}}},
    {"data": {"values": [{}]}, "mark": {"type": "text", "fontSize": 6.5, "color": "#555555", "angle": 270, "dy": 7}, "encoding": {"x": {"datum": 3}, "y": {"datum": 4.6}, "text": {"value": "Significance →"}}}
   ]},
  {"width": 243, "height": 179, "title": {"text": "(L)", "anchor": "start", "frame": "group", "dx": -15, "fontSize": 10.5, "fontWeight": "bold", "offset": 2, "color": "#111111"},
   "view": {"stroke": "#888888", "strokeWidth": 0.8},
   "layer": [
    {"data": {"values": [{"g": 2}, {"g": 4}, {"g": 6}, {"g": 10}]}, "mark": {"type": "rule", "color": "#cccccc", "strokeWidth": 1},
     "encoding": {"x": {"field": "g", "type": "quantitative", "scale": {"domain": [0, 15.9], "nice": false}, "axis": {"values": [0,2,4,6,8,10,12,14], "tickCount": 20, "format": "d", "title": "-log10(P)", "grid": false, "ticks": false, "domain": false, "labelFontSize": 6.5, "labelColor": "#444444", "titleFontSize": 6.5, "titleColor": "#444444", "labelPadding": 3, "titlePadding": 3}}}},
    {"data": {"name": "go"}, "mark": {"type": "bar", "stroke": "#8c8c8c", "strokeWidth": 0.6},
     "encoding": {"x": {"field": "v", "type": "quantitative", "title": "-log10(P)"},
      "y": {"field": "t", "type": "nominal", "sort": null, "scale": {"paddingInner": 0.2, "paddingOuter": 0.1}, "axis": {"orient": "right", "title": null, "ticks": false, "domain": false, "labelFontSize": 6.3, "labelColor": "#333333", "labelPadding": 4, "labelLimit": 400}},
      "color": {"field": "c", "type": "nominal", "scale": {"domain": ["a", "b", "c"], "range": ["#db5f10", "#f7931e", "#fcbd48"]}, "legend": null}}}
   ]}
 ]}
]
}
